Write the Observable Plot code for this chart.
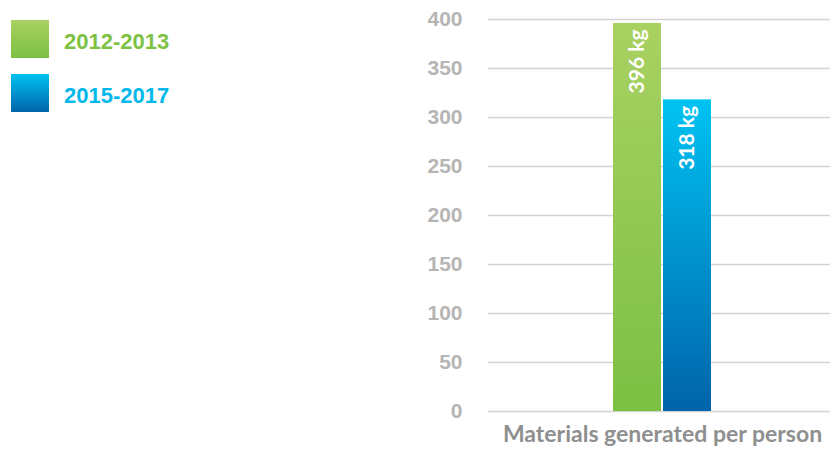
<!DOCTYPE html>
<html><head><meta charset="utf-8">
<script src="https://cdn.jsdelivr.net/npm/d3@7"></script>
<script src="https://cdn.jsdelivr.net/npm/@observablehq/plot@0.6"></script>
<style>
html,body{margin:0;padding:0;background:#fff;}
#wrap{position:relative;width:830px;height:453px;}
#legend{position:absolute;left:11px;top:20px;font-family:"Liberation Sans",Arial,sans-serif;font-weight:bold;font-size:22px;}
.item{display:flex;align-items:center;height:38px;margin-bottom:16px;}
.sw{width:38px;height:38px;margin-right:15px;}
.item span{position:relative;top:3px;}
</style></head>
<body><div id="wrap"><div id="legend"></div></div>
<script>
const periods = ["2012-2013", "2015-2017"];
const values = [396, 318];
const labels = ["396 kg", "318 kg"];
const category = "Materials generated per person";
const yTicks = [0, 50, 100, 150, 200, 250, 300, 350, 400];
const colorsTop = ["#a9d162", "#00c3f2"];
const colorsBottom = ["#7bc043", "#0063aa"];
const legendText = ["#7dc242", "#00b8ea"];

const data = periods.map((p, i) => ({period: p, value: values[i], label: labels[i]}));

const legend = document.getElementById("legend");
periods.forEach((p, i) => {
  const it = document.createElement("div"); it.className = "item";
  const sw = document.createElement("div"); sw.className = "sw";
  sw.style.background = `linear-gradient(${colorsTop[i]}, ${colorsBottom[i]})`;
  const t = document.createElement("span"); t.textContent = p; t.style.color = legendText[i];
  it.appendChild(sw); it.appendChild(t); legend.appendChild(it);
});

const plot = Plot.plot({
  width: 830, height: 453,
  marginLeft: 488, marginRight: 0, marginTop: 19, marginBottom: 42,
  style: {fontFamily: "Lato, sans-serif", background: "transparent"},
  x: {domain: periods, paddingInner: 0.04, paddingOuter: 2.37, insetLeft: 6, axis: null},
  y: {domain: [0, 400], ticks: yTicks, label: null},
  marks: [
    Plot.ruleY(yTicks, {stroke: "#d4d4d4", strokeWidth: 1.3}),
    ...data.map((d, i) => Plot.barY([d], {x: "period", y: "value", fill: `url(#grad${i})`})),
    Plot.text(data, {x: "period", y: "value", text: "label", rotate: -90, textAnchor: "end", dy: 6, fill: "white", fontSize: 21, fontWeight: "bold"}),
    Plot.axisY({ticks: yTicks, tickSize: 0, tickPadding: 26, fontSize: 21, fontWeight: "bold", fill: "#b5b5b5", fontFamily: "Liberation Sans, Arial, sans-serif", label: null}),
    Plot.text([category], {frameAnchor: "bottom", dy: 30, dx: 3, text: d => d, fontSize: 23, fontWeight: "bold", fill: "#8f8f8f"})
  ]
});
plot.style.position = "absolute"; plot.style.left = "0"; plot.style.top = "0";
const svg = d3.select(plot);
const defs = svg.insert("defs", ":first-child");
periods.forEach((p, i) => {
  const g = defs.append("linearGradient").attr("id", "grad" + i).attr("x1", 0).attr("y1", 0).attr("x2", 0).attr("y2", 1);
  g.append("stop").attr("offset", "0%").attr("stop-color", colorsTop[i]);
  g.append("stop").attr("offset", "100%").attr("stop-color", colorsBottom[i]);
});
document.getElementById("wrap").insertBefore(plot, legend);
</script></body></html>
